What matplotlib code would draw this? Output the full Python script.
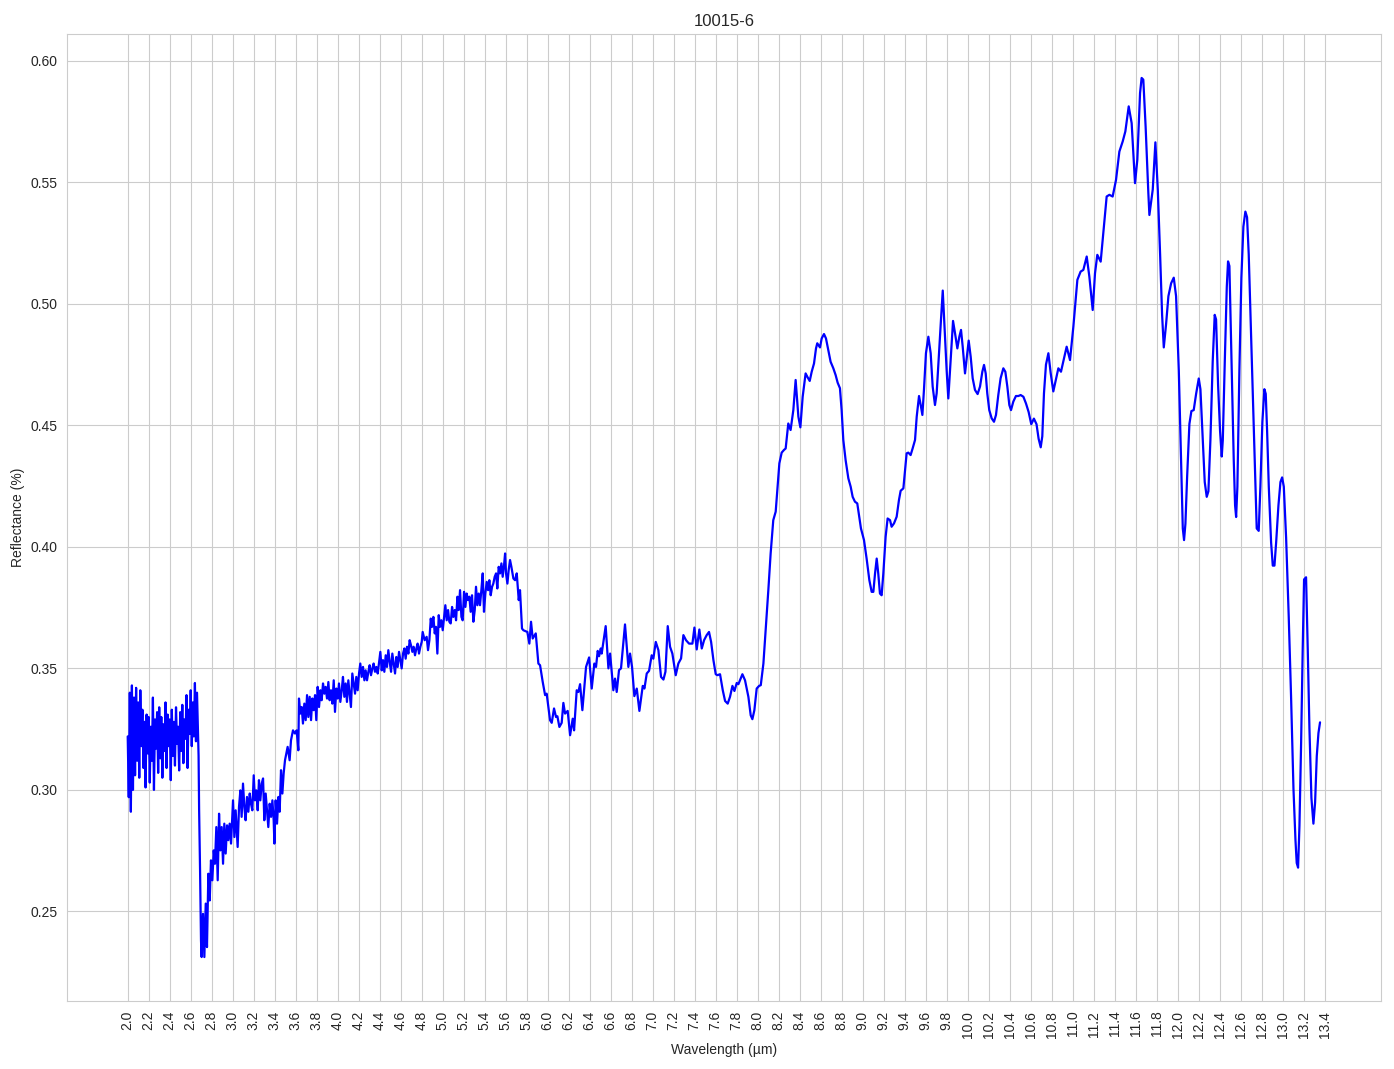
import numpy as np
import matplotlib.pyplot as plt
import seaborn as sns

# noisy start of the spectrum, one reading every 0.01 um from 2.00 to 2.67
start_x = np.round(np.arange(2.00, 2.675, 0.01), 2)
start_y = [0.322, 0.297, 0.340, 0.291, 0.343, 0.300, 0.338, 0.306, 0.342, 0.312,
           0.336, 0.305, 0.341, 0.318, 0.333, 0.309, 0.328, 0.301, 0.331, 0.315,
           0.330, 0.303, 0.326, 0.312, 0.338, 0.300, 0.329, 0.317, 0.332, 0.307,
           0.334, 0.313, 0.330, 0.305, 0.327, 0.316, 0.336, 0.309, 0.331, 0.318,
           0.329, 0.304, 0.333, 0.314, 0.328, 0.310, 0.334, 0.319, 0.326, 0.308,
           0.332, 0.316, 0.335, 0.311, 0.329, 0.321, 0.339, 0.309, 0.333, 0.323,
           0.341, 0.318, 0.336, 0.322, 0.344, 0.320, 0.340, 0.323]

# rest of the spectrum (wavelength, reflectance)
rest_x = [2.675, 2.68, 2.689, 2.698, 2.704, 2.717, 2.73, 2.743, 2.755, 2.768,
          2.781, 2.793, 2.806, 2.819, 2.831, 2.844, 2.857, 2.87, 2.882, 2.895,
          2.908, 2.92, 2.933, 2.946, 2.958, 2.971, 2.984, 3.003, 3.016, 3.028,
          3.047, 3.06, 3.073, 3.085, 3.098, 3.111, 3.123, 3.136, 3.149, 3.162,
          3.174, 3.187, 3.2, 3.212, 3.225, 3.238, 3.25, 3.263, 3.276, 3.289,
          3.301, 3.314, 3.327, 3.339, 3.352, 3.365, 3.378, 3.39, 3.397, 3.409,
          3.422, 3.435, 3.447, 3.46, 3.473, 3.485,
          3.498, 3.523, 3.542, 3.555, 3.574, 3.593, 3.609, 3.625, 3.631, 3.644,
          3.657, 3.669, 3.682, 3.695, 3.708, 3.72, 3.733, 3.746, 3.758, 3.771,
          3.784, 3.796, 3.809, 3.822, 3.835, 3.847, 3.86, 3.873, 3.885, 3.898,
          3.911, 3.923, 3.936, 3.949, 3.962, 3.974, 3.987, 4.0, 4.012, 4.025,
          4.038, 4.05, 4.063, 4.076, 4.088, 4.101, 4.114, 4.126, 4.139, 4.152,
          4.165, 4.177, 4.19, 4.203, 4.215, 4.228, 4.241, 4.254, 4.266, 4.279,
          4.292, 4.304, 4.317, 4.33, 4.342, 4.355, 4.368, 4.381, 4.393, 4.406,
          4.419, 4.431, 4.444, 4.457, 4.469, 4.482, 4.495, 4.508, 4.52, 4.533,
          4.546, 4.558, 4.571, 4.584, 4.596, 4.609, 4.622, 4.635, 4.647, 4.66,
          4.673, 4.685, 4.698, 4.711, 4.723, 4.736, 4.749, 4.761, 4.774, 4.787,
          4.8,
          4.809, 4.828, 4.847, 4.86, 4.873, 4.886, 4.898, 4.911, 4.924, 4.936,
          4.949, 4.962, 4.974, 4.987, 5.0, 5.013, 5.025, 5.038, 5.051, 5.063,
          5.076, 5.089, 5.101, 5.114, 5.127, 5.14, 5.152, 5.165, 5.178, 5.19,
          5.203, 5.216, 5.228, 5.241, 5.254, 5.266, 5.279, 5.292, 5.305, 5.317,
          5.33, 5.343, 5.355, 5.368, 5.381, 5.393, 5.406, 5.419, 5.432, 5.444,
          5.457, 5.47, 5.482, 5.495, 5.508, 5.52, 5.533, 5.546, 5.559, 5.571,
          5.584, 5.594, 5.603, 5.616, 5.628, 5.641, 5.654, 5.673, 5.689, 5.705,
          5.724, 5.736, 5.755,
          5.768, 5.806, 5.825, 5.841, 5.857, 5.886, 5.911, 5.927, 5.952, 5.975,
          5.99, 6.022, 6.038, 6.06, 6.079, 6.092, 6.111, 6.133, 6.149, 6.165,
          6.19, 6.213, 6.238, 6.251, 6.276, 6.292, 6.308, 6.33, 6.365, 6.394,
          6.419, 6.444, 6.46, 6.476, 6.489, 6.505, 6.514, 6.552, 6.578, 6.594,
          6.625, 6.641, 6.657, 6.679, 6.698, 6.736, 6.768, 6.784, 6.803, 6.825,
          6.848, 6.873, 6.905, 6.921, 6.943, 6.965, 6.99, 7.006, 7.029, 7.054,
          7.079, 7.102, 7.121, 7.143, 7.165, 7.187, 7.219, 7.244, 7.27, 7.292,
          7.317, 7.346, 7.378, 7.397, 7.419, 7.444, 7.467, 7.489, 7.514, 7.536,
          7.556, 7.578, 7.6, 7.616, 7.641, 7.667, 7.689, 7.714, 7.736, 7.759,
          7.778, 7.8, 7.816, 7.854, 7.879, 7.911, 7.933, 7.949, 7.968, 7.99,
          8.013, 8.029, 8.054, 8.086,
          8.101, 8.123, 8.148, 8.171, 8.187, 8.206, 8.228, 8.25, 8.266, 8.291,
          8.313, 8.339, 8.361, 8.387, 8.406, 8.428, 8.456, 8.475, 8.495, 8.514,
          8.536, 8.555, 8.567, 8.593, 8.609, 8.631, 8.65, 8.672, 8.694, 8.72,
          8.742, 8.761, 8.783, 8.799, 8.815, 8.837, 8.863, 8.885, 8.904, 8.926,
          8.948, 8.967, 8.983, 9.012, 9.037, 9.063, 9.085, 9.101, 9.117, 9.133,
          9.148, 9.164, 9.18, 9.196, 9.218, 9.237, 9.26, 9.275, 9.298, 9.323,
          9.345, 9.361, 9.387, 9.406, 9.418, 9.434, 9.456, 9.475, 9.498, 9.514,
          9.536, 9.552, 9.568, 9.583, 9.602, 9.625, 9.647, 9.666, 9.688, 9.704,
          9.726, 9.745, 9.762, 9.783, 9.799, 9.815, 9.837, 9.86, 9.879, 9.901,
          9.92, 9.936, 9.952, 9.974, 9.99, 10.009, 10.028, 10.047, 10.069, 10.094,
          10.117, 10.139, 10.155, 10.171, 10.186, 10.205, 10.228, 10.25, 10.269, 10.291,
          10.313, 10.339, 10.358, 10.377, 10.396, 10.412, 10.434, 10.459, 10.482,
          10.504, 10.53, 10.555, 10.58, 10.605, 10.63, 10.655, 10.675, 10.695, 10.71,
          10.726, 10.745,
          10.768, 10.79, 10.815, 10.863, 10.888, 10.942, 10.974, 11.006, 11.044, 11.075,
          11.101, 11.133, 11.158, 11.19, 11.212, 11.234, 11.266, 11.291, 11.323, 11.349,
          11.38, 11.412, 11.444, 11.476, 11.501, 11.533, 11.561, 11.593, 11.615, 11.641,
          11.656, 11.672, 11.694, 11.72,
          11.73, 11.762, 11.787, 11.81, 11.832, 11.851, 11.867, 11.889, 11.911, 11.937,
          11.962, 11.984, 12.01, 12.032, 12.048, 12.06, 12.073, 12.089, 12.111, 12.13,
          12.152, 12.175, 12.2, 12.216, 12.238, 12.257, 12.276, 12.292, 12.311, 12.333,
          12.352, 12.365, 12.384, 12.403, 12.419, 12.429, 12.448, 12.467, 12.479, 12.492,
          12.511, 12.533, 12.546, 12.556, 12.568, 12.587, 12.606, 12.625, 12.644, 12.66,
          12.676, 12.698, 12.721, 12.74, 12.752, 12.771, 12.787, 12.806, 12.825, 12.838,
          12.851, 12.867, 12.889, 12.905, 12.921, 12.937, 12.959, 12.978, 12.994, 13.01,
          13.032, 13.057, 13.079, 13.102, 13.121, 13.133, 13.146, 13.159, 13.175, 13.19,
          13.203, 13.222, 13.238, 13.254, 13.273, 13.292, 13.308, 13.324, 13.34, 13.355]
rest_y = [0.314, 0.292, 0.267, 0.238, 0.2312, 0.249, 0.2312, 0.2532, 0.2353, 0.2655,
          0.2545, 0.271, 0.2628, 0.2751, 0.2696, 0.2847, 0.2628, 0.2902, 0.2751, 0.2847,
          0.2696, 0.2861, 0.2738, 0.2854, 0.2793, 0.2861, 0.2779, 0.2957, 0.2806, 0.2916,
          0.2765, 0.293, 0.2998, 0.2889, 0.3026, 0.293, 0.2875, 0.2971, 0.291, 0.2985,
          0.2943, 0.2916, 0.306, 0.2957, 0.2998, 0.2916, 0.304, 0.2957, 0.3026, 0.3047,
          0.2875, 0.2985, 0.2916, 0.2847, 0.2943, 0.2889, 0.2957, 0.2875, 0.2779, 0.2957,
          0.2861, 0.2971, 0.291, 0.3081, 0.2985, 0.3067,
          0.3122, 0.3177, 0.3122, 0.3204, 0.3245, 0.3232, 0.3245, 0.3163, 0.3376, 0.3314,
          0.3341, 0.3273, 0.3355, 0.3287, 0.339, 0.33, 0.3383, 0.3287, 0.3376, 0.3328,
          0.339, 0.3287, 0.3424, 0.3341, 0.341, 0.3369, 0.3438, 0.3396, 0.3424, 0.3376,
          0.3444, 0.3369, 0.341, 0.3355, 0.3451, 0.3321, 0.3417, 0.3376, 0.3438, 0.3362,
          0.341, 0.3465, 0.3383, 0.3438, 0.3362, 0.3451, 0.3396, 0.3341, 0.3479, 0.3438,
          0.3396, 0.3465, 0.341, 0.3479, 0.352, 0.3465, 0.3506, 0.3451, 0.3492, 0.3451,
          0.3486, 0.3513, 0.3472, 0.35, 0.352, 0.3486, 0.3506, 0.3479, 0.352, 0.3568,
          0.3492, 0.3534, 0.3486, 0.3554, 0.3506, 0.3575, 0.3527, 0.3486, 0.3561, 0.352,
          0.3479, 0.3547, 0.3506, 0.3568, 0.3534, 0.35, 0.3561, 0.3582, 0.354, 0.3589,
          0.3561, 0.3616, 0.3595, 0.3568, 0.3589, 0.3554, 0.3582, 0.3602, 0.3561, 0.3589,
          0.3609,
          0.365, 0.3616, 0.363, 0.3575, 0.3616, 0.3705, 0.3671, 0.3712, 0.3644, 0.3671,
          0.3561, 0.3719, 0.3671, 0.3698, 0.3657, 0.3712, 0.376, 0.3698, 0.374, 0.3692,
          0.3685, 0.3753, 0.3712, 0.374, 0.3698, 0.3795, 0.374, 0.3822, 0.3712, 0.3698,
          0.3815, 0.3753, 0.3808, 0.3781, 0.3795, 0.3733, 0.3801, 0.3692, 0.374, 0.3836,
          0.376, 0.3808, 0.376, 0.3822, 0.3891, 0.3733, 0.3808, 0.3856, 0.3822, 0.3863,
          0.3801, 0.3836, 0.3849, 0.3877, 0.3891, 0.3829, 0.3918, 0.3891, 0.3932, 0.3877,
          0.3925, 0.3973, 0.3891, 0.3849, 0.3904, 0.3946, 0.3918, 0.387, 0.3863, 0.3891,
          0.3781, 0.3822, 0.3664,
          0.3657, 0.365, 0.3602, 0.3692, 0.3623, 0.3644, 0.352, 0.3513, 0.3445, 0.339,
          0.3396, 0.3287, 0.3276, 0.3335, 0.33, 0.3303, 0.3259, 0.3276, 0.3358, 0.3314,
          0.3325, 0.3225, 0.3293, 0.3245, 0.341, 0.3403, 0.3435, 0.3328, 0.3506, 0.3545,
          0.3417, 0.352, 0.3506, 0.3572, 0.355, 0.3582, 0.3561, 0.3674, 0.35, 0.3561,
          0.341, 0.3458, 0.3403, 0.3493, 0.35, 0.3681, 0.3506, 0.3561, 0.3506, 0.3386,
          0.3417, 0.3325, 0.3428, 0.3417, 0.3479, 0.349, 0.3554, 0.354, 0.3609, 0.3575,
          0.3465, 0.3454, 0.3486, 0.3674, 0.3589, 0.3561, 0.3472, 0.352, 0.3541, 0.3637,
          0.3616, 0.3602, 0.3602, 0.3668, 0.3578, 0.366, 0.3582, 0.3616, 0.3637, 0.365,
          0.3609, 0.3534, 0.3476, 0.3472, 0.3476, 0.341, 0.3366, 0.3355, 0.3383, 0.3428,
          0.3407, 0.344, 0.3435, 0.3476, 0.3451, 0.3383, 0.3307, 0.3291, 0.3328, 0.3417,
          0.3428, 0.3431, 0.352, 0.3726,
          0.3822, 0.3973, 0.411, 0.4145, 0.4234, 0.4344, 0.4388, 0.4399, 0.4405, 0.4508,
          0.4481, 0.4563, 0.4687, 0.4536, 0.4492, 0.4618, 0.4714, 0.4698, 0.4683, 0.4721,
          0.4755, 0.4817, 0.4838, 0.4821, 0.4858, 0.4876, 0.4858, 0.481, 0.4762, 0.4735,
          0.4707, 0.4676, 0.4653, 0.4563, 0.444, 0.4357, 0.4282, 0.4248, 0.4206, 0.4186,
          0.4179, 0.4124, 0.4076, 0.4028, 0.3952, 0.3863, 0.3815, 0.3815, 0.389, 0.3952,
          0.389, 0.3808, 0.3801, 0.389, 0.4042, 0.4117, 0.411, 0.4083, 0.4097, 0.4124,
          0.4193, 0.4231, 0.4241, 0.433, 0.4385, 0.4388, 0.4378, 0.4405, 0.444, 0.4536,
          0.4621, 0.4584, 0.4543, 0.4646, 0.4797, 0.4865, 0.4797, 0.466, 0.4584, 0.4632,
          0.4797, 0.4934, 0.5055, 0.4865, 0.4728, 0.4611, 0.4769, 0.493, 0.4879, 0.4817,
          0.4865, 0.4893, 0.4824, 0.4714, 0.4776, 0.4849, 0.4783, 0.4694, 0.4646, 0.4629,
          0.466, 0.4721, 0.4749, 0.4714, 0.4632, 0.4563, 0.4529, 0.4515, 0.4543, 0.4625,
          0.4694, 0.4735, 0.4721, 0.466, 0.4584, 0.4563, 0.4598, 0.4621, 0.4621,
          0.4625, 0.4618, 0.459, 0.4555, 0.4505, 0.4528, 0.4505, 0.4445, 0.441, 0.4455,
          0.4632, 0.475,
          0.4797, 0.4715, 0.464, 0.4735, 0.4721, 0.4824, 0.4769, 0.4907, 0.5099, 0.5133,
          0.514, 0.5195, 0.5113, 0.4975, 0.5126, 0.5202, 0.5174, 0.5291, 0.5442, 0.5449,
          0.5442, 0.551, 0.5627, 0.5669, 0.571, 0.5813, 0.5744, 0.5497, 0.5593, 0.5868,
          0.593, 0.5923, 0.573, 0.5456,
          0.5366, 0.5471, 0.5665, 0.547, 0.5204, 0.4955, 0.4821, 0.4917, 0.5032, 0.5085,
          0.5108, 0.5032, 0.4726, 0.4343, 0.4076, 0.4028, 0.4095, 0.4285, 0.4506, 0.4559,
          0.4563, 0.463, 0.4693, 0.4649, 0.4439, 0.4267, 0.4206, 0.4229, 0.4439, 0.4764,
          0.4955, 0.4936, 0.4668, 0.4477, 0.4372, 0.4439, 0.4764, 0.507, 0.5175, 0.5156,
          0.4783, 0.4362, 0.4171, 0.4123, 0.4248, 0.4726, 0.5108, 0.5318, 0.538, 0.5357,
          0.5204, 0.4879, 0.4534, 0.4248, 0.4076, 0.4066, 0.4248, 0.4515, 0.4649, 0.463,
          0.4477, 0.4248, 0.4018, 0.3923, 0.3923, 0.4018, 0.4171, 0.4267, 0.4286, 0.4248,
          0.4038, 0.3712, 0.3387, 0.3005, 0.2794, 0.2699, 0.268, 0.2852, 0.3196, 0.3579,
          0.3866, 0.3875, 0.3579, 0.3254, 0.2967, 0.2861, 0.2948, 0.3139, 0.3234, 0.3278]

wavelength = np.concatenate([start_x, rest_x])
reflectance = np.concatenate([start_y, rest_y])

sns.set_style('whitegrid')
plt.rcParams['font.family'] = ['Liberation Sans', 'DejaVu Sans']

fig = plt.figure(figsize=(13.94, 10.69), dpi=100)
plt.subplots_adjust(left=0.0483, right=0.9907, top=0.9682, bottom=0.0636)
plt.plot(wavelength, reflectance, color='blue', linewidth=1.6)

ticks = np.round(np.arange(2.0, 13.45, 0.2), 1)
plt.xticks(ticks, ['%.1f' % t for t in ticks], rotation=90)
plt.xlim(1.425, 13.936)
plt.title('10015-6', fontsize=12)
plt.xlabel('Wavelength (µm)')
plt.ylabel('Reflectance (%)')
plt.savefig('out.png', dpi=100)
